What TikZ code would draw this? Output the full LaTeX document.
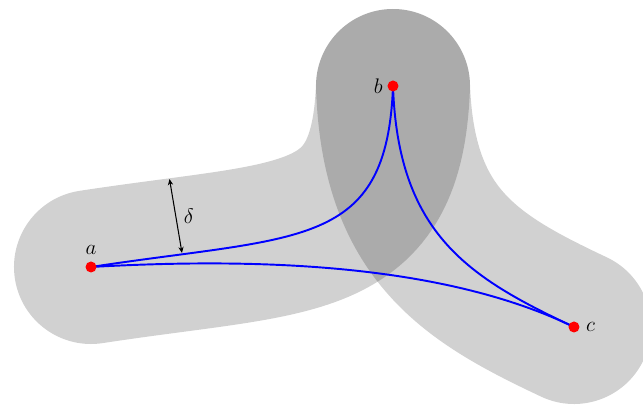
\documentclass[tikz,border=0pt]{standalone}
\usepackage{amsmath,amssymb}
\usepackage{xcolor}
\usetikzlibrary{positioning,arrows.meta}

\begin{document}
\begin{tikzpicture}[>=Stealth,
  tube/.style={draw=black, draw opacity=0.18, line width=3.08cm, line cap=round},
  curve/.style={draw=blue, line width=1.1pt},
  pt/.style={circle, fill=red, inner sep=0pt, minimum size=0.22cm},
  lab/.style={font=\large}]
  \useasboundingbox (0,0) rectangle (12.86,8.14);

  \coordinate (pa) at (1.82,2.80);
  \coordinate (pb) at (7.86,6.42);
  \coordinate (pc) at (11.48,1.60);

  % neighbourhoods of the two curves
  \draw[tube] (pa) .. controls (6.00,3.44) and (7.74,3.14) .. (pb);
  \draw[tube] (pb) .. controls (7.96,3.44) and (9.40,2.58) .. (pc);

  % the three curves
  \draw[curve] (pa) .. controls (6.00,3.44) and (7.74,3.14) .. (pb);
  \draw[curve] (pb) .. controls (7.96,3.44) and (9.40,2.58) .. (pc);
  \draw[curve] (pa) .. controls (5.00,2.98) and (8.80,2.90) .. (pc);

  \node[pt] (a) at (pa) {};
  \node[pt] (b) at (pb) {};
  \node[pt] (c) at (pc) {};
  \node[lab, above=0pt of a] (la) {$a$};
  \node[lab, left=-1pt of b] (lb) {$b$};
  \node[lab, right=0pt of c] (lc) {$c$};

  % width of the neighbourhood
  \coordinate (d0) at (3.64,3.08);
  \coordinate (d1) at (3.39,4.56);
  \draw[{Stealth[length=3.5pt,width=3pt]}-{Stealth[length=3.5pt,width=3pt]}, line width=0.6pt]
    (d0) -- node[lab, right=1pt] (delta) {$\delta$} (d1);
\end{tikzpicture}
\end{document}
